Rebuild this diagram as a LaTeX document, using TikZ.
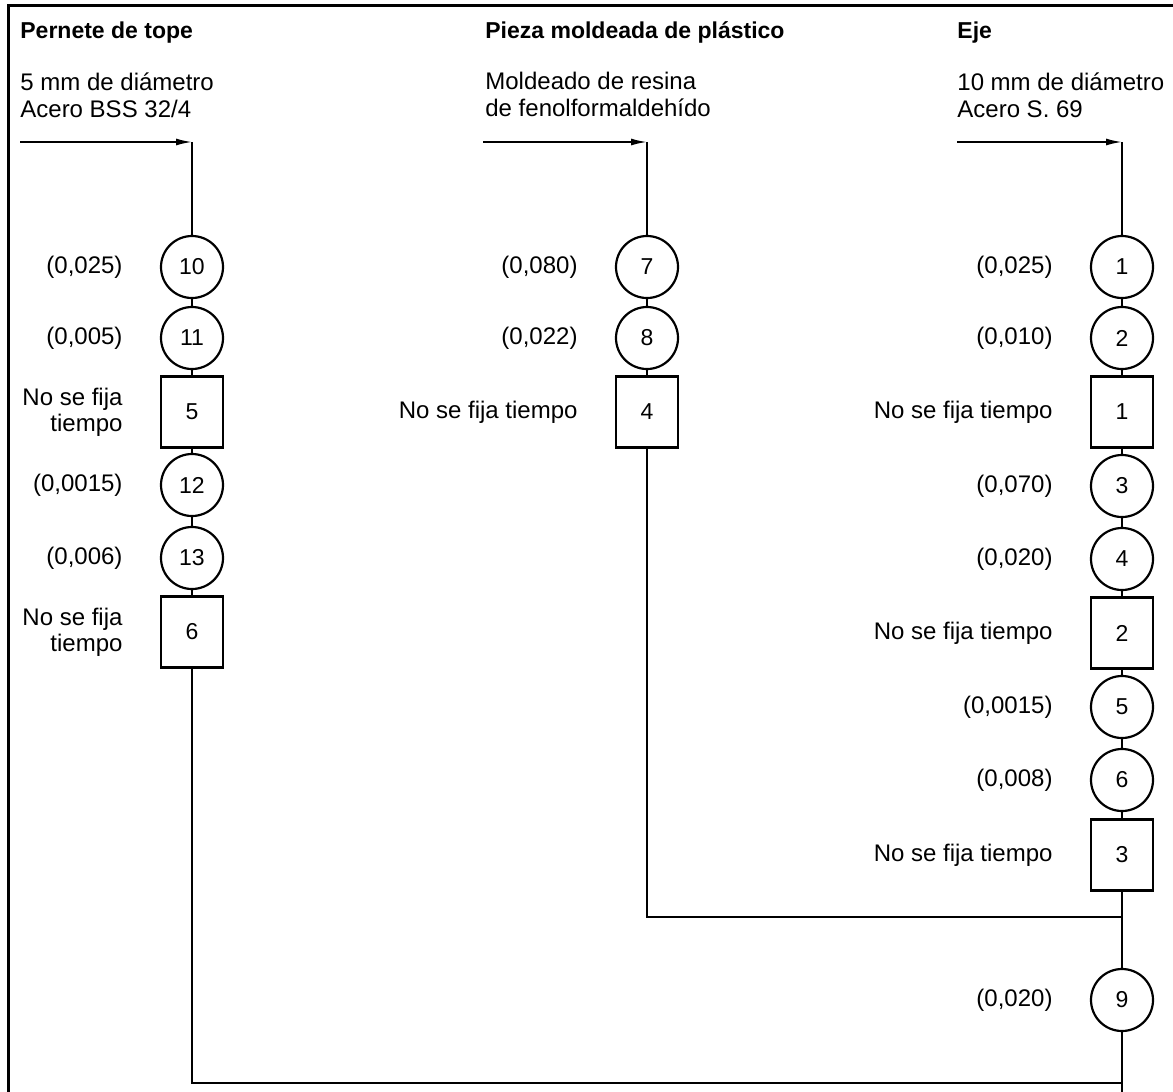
\documentclass[tikz,border=0pt]{standalone}
\usepackage{fontspec}
\setmainfont{Liberation Sans}
\usetikzlibrary{arrows.meta, positioning}

\begin{document}
\begin{tikzpicture}[
  x=0.5pt, y=-0.5pt,
  oper/.style={draw, circle, line width=1.1pt, minimum size=31pt, inner sep=0pt, font=\fontsize{11.5}{12}\selectfont},
  insp/.style={draw, rectangle, line width=1.1pt, minimum width=31pt, minimum height=35.5pt, inner sep=0pt, font=\fontsize{11.5}{12}\selectfont},
  tlabel/.style={align=right, inner sep=0pt, font=\fontsize{12}{13}\selectfont},
  head/.style={anchor=north west, align=left, inner sep=0pt, font=\fontsize{12}{13.5}\selectfont},
  headbold/.style={head, font=\fontsize{11.5}{13}\selectfont\bfseries},
  link/.style={line width=0.85pt},
  flow/.style={line width=0.85pt, -{Latex[length=8pt, width=3.5pt]}},
  node distance=18.5pt
]
\useasboundingbox (0,0) rectangle (1173,1092);
\draw[line width=1.5pt] (1173,5) -- (8,5) -- (8,1092);

% Headings
\node[headbold] (hP) at (20,21) {Pernete de tope};
\node[head] (mP) at (20,72) {5 mm de diámetro\\Acero BSS 32/4};
\node[headbold] (hM) at (485,21) {Pieza moldeada de plástico};
\node[head] (mM) at (485,72) {Moldeado de resina\\de fenolformaldehído};
\node[headbold] (hE) at (957,21) {Eje};
\node[head] (mE) at (957,72) {10 mm de diámetro\\Acero S. 69};

% Left column: pernete
\node[oper] (op10) at (192,267) {10};
\node[oper] (op11) at (192,338) {11};
\node[insp] (in5) at (192,412) {5};
\node[oper] (op12) at (192,485) {12};
\node[oper] (op13) at (192,558) {13};
\node[insp] (in6) at (192,632) {6};
\node[tlabel, left=of op10] (lop10) {(0,025)};
\node[tlabel, left=of op11] (lop11) {(0,005)};
\node[tlabel, left=of in5] (lin5) {No se fija\\tiempo};
\node[tlabel, left=of op12] (lop12) {(0,0015)};
\node[tlabel, left=of op13] (lop13) {(0,006)};
\node[tlabel, left=of in6] (lin6) {No se fija\\tiempo};

% Middle column: pieza moldeada
\node[oper] (op7) at (647,267) {7};
\node[oper] (op8) at (647,338) {8};
\node[insp] (in4) at (647,412) {4};
\node[tlabel, left=of op7] (lop7) {(0,080)};
\node[tlabel, left=of op8] (lop8) {(0,022)};
\node[tlabel, left=of in4] (lin4) {No se fija tiempo};

% Right column: eje
\node[oper] (op1) at (1122,267) {1};
\node[oper] (op2) at (1122,338) {2};
\node[insp] (in1) at (1122,412) {1};
\node[oper] (op3) at (1122,486) {3};
\node[oper] (op4) at (1122,559) {4};
\node[insp] (in2) at (1122,633) {2};
\node[oper] (op5) at (1122,707) {5};
\node[oper] (op6) at (1122,780) {6};
\node[insp] (in3) at (1122,855) {3};
\node[oper] (op9) at (1122,1000) {9};
\node[tlabel, left=of op1] (lop1) {(0,025)};
\node[tlabel, left=of op2] (lop2) {(0,010)};
\node[tlabel, left=of in1] (lin1) {No se fija tiempo};
\node[tlabel, left=of op3] (lop3) {(0,070)};
\node[tlabel, left=of op4] (lop4) {(0,020)};
\node[tlabel, left=of in2] (lin2) {No se fija tiempo};
\node[tlabel, left=of op5] (lop5) {(0,0015)};
\node[tlabel, left=of op6] (lop6) {(0,008)};
\node[tlabel, left=of in3] (lin3) {No se fija tiempo};
\node[tlabel, left=of op9] (lop9) {(0,020)};

% Material inputs
\coordinate (inP) at (20,142);
\coordinate (topP) at (192,142);
\coordinate (inM) at (483,142);
\coordinate (topM) at (647,142);
\coordinate (inE) at (957,142);
\coordinate (topE) at (1122,142);
\draw[flow] (inP) -- (topP);
\draw[flow] (inM) -- (topM);
\draw[flow] (inE) -- (topE);

% Flow lines
\coordinate (joinM) at (1122,917);
\coordinate (joinP) at (1122,1083);
\coordinate (outE) at (1122,1092);
\draw[link] (topP) -- (op10) -- (op11) -- (in5) -- (op12) -- (op13) -- (in6);
\draw[link] (topM) -- (op7) -- (op8) -- (in4);
\draw[link] (topE) -- (op1) -- (op2) -- (in1) -- (op3) -- (op4) -- (in2) -- (op5) -- (op6) -- (in3) -- (op9) -- (outE);
\draw[link] (in4) |- (joinM);
\draw[link] (in6) |- (joinP);

\end{tikzpicture}
\end{document}
